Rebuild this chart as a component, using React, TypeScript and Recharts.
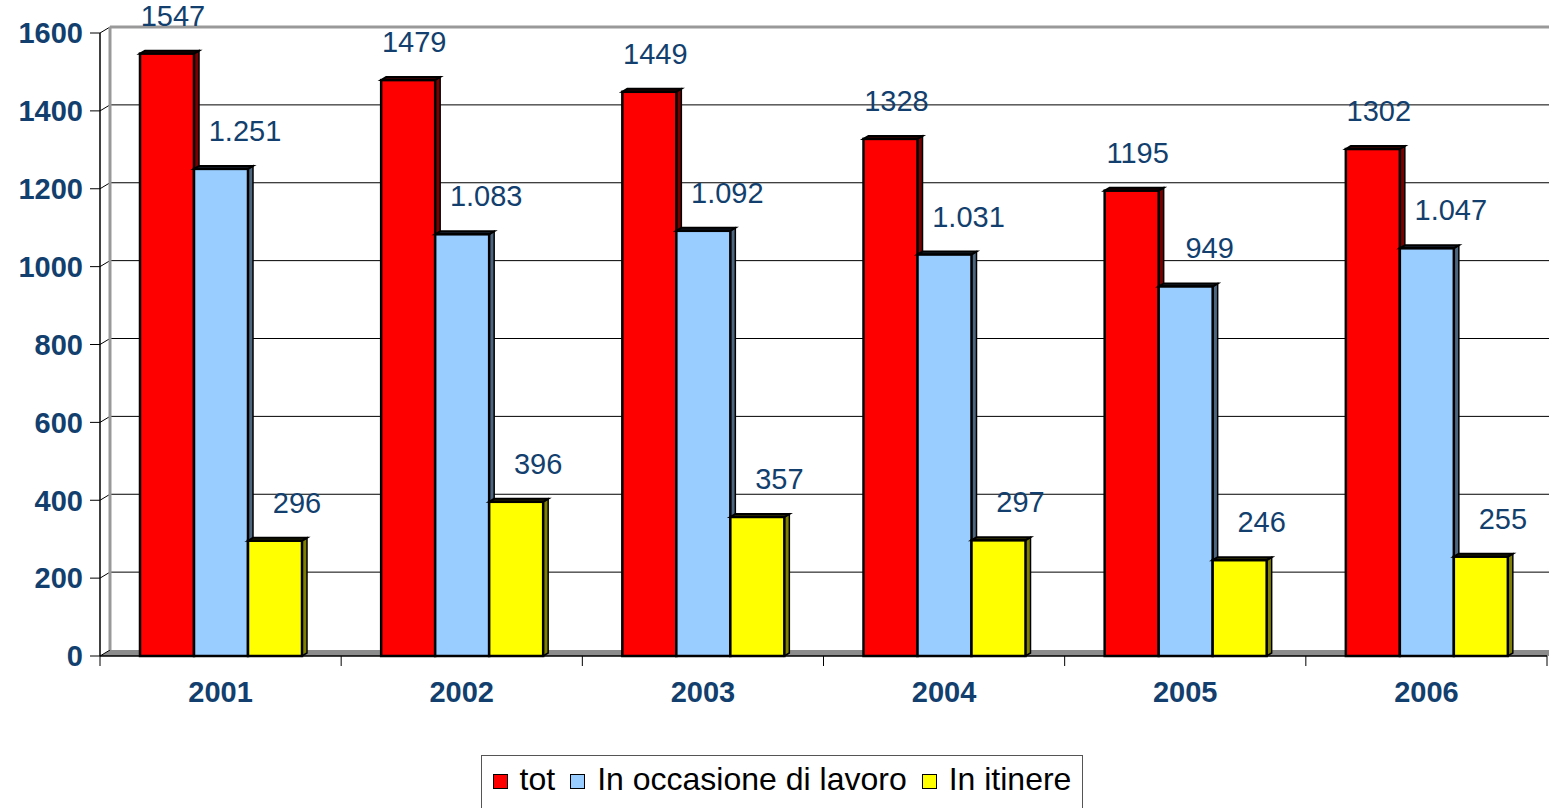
import React from 'react';
import { BarChart, Bar, XAxis, YAxis, CartesianGrid, LabelList } from 'recharts';

const years = ['2001', '2002', '2003', '2004', '2005', '2006'];
const tot = [1547, 1479, 1449, 1328, 1195, 1302];
const lavoro = [1251, 1083, 1092, 1031, 949, 1047];
const itinere = [296, 396, 357, 297, 246, 255];
const yTicks = [0, 200, 400, 600, 800, 1000, 1200, 1400, 1600];

const data = years.map((year, i) => ({
  year,
  tot: tot[i],
  lavoro: lavoro[i],
  itinere: itinere[i],
}));

const W = 1549;
const H = 808;
const AXIS_W = 100;
const TOP = 33;
const RIGHT = 2;
const XAXIS_H = 152;
const PLOT_W = W - AXIS_W - RIGHT;
const HALF_BAND = PLOT_W / years.length / 2;

// offset of the back wall relative to the front axis
const WALL_DX = 10;
const WALL_DY = -6;

const NAVY = '#123f6e';
const FONT = '"Liberation Sans", Arial, sans-serif';

const series = [
  { key: 'tot', name: 'tot', color: '#ff0000', side: '#7a0000', top: '#3a0000', labelDx: 6 },
  { key: 'lavoro', name: 'In occasione di lavoro', color: '#99ccff', side: '#4d6680', top: '#1a2230', labelDx: 24 },
  { key: 'itinere', name: 'In itinere', color: '#ffff00', side: '#808000', top: '#303000', labelDx: 22 },
];

const fmtThousands = (v: number) => String(v).replace(/\B(?=(\d{3})+(?!\d))/g, '.');

function Bar3D(props: any) {
  const { x, y, width, height, fill, side, topColor } = props;
  if (width == null || height == null) return null;
  const dx = 5;
  const dy = -3;
  return (
    <g>
      <polygon
        points={`${x + width},${y} ${x + width + dx},${y + dy} ${x + width + dx},${y + height + dy} ${x + width},${y + height}`}
        fill={side}
        stroke="#000"
        strokeWidth={1.5}
      />
      <polygon
        points={`${x},${y} ${x + dx},${y + dy} ${x + width + dx},${y + dy} ${x + width},${y}`}
        fill={topColor}
        stroke="#000"
        strokeWidth={2}
      />
      <rect x={x} y={y} width={width} height={height} fill={fill} stroke="#000" strokeWidth={2.5} />
    </g>
  );
}

function makeLabel(dxOff: number, format: (v: number) => string) {
  return (props: any) => {
    const { x, y, width, value } = props;
    return (
      <text
        x={x + width / 2 + dxOff}
        y={y - 28}
        textAnchor="middle"
        fill={NAVY}
        fontSize={29}
        fontFamily={FONT}
      >
        {format(value)}
      </text>
    );
  };
}

function GridLine(props: any) {
  const { x1, y1, x2, key, index } = props;
  const isTop = Math.abs(y1 - TOP) < 1;
  const isFloor = Math.abs(y1 - (H - XAXIS_H)) < 1;
  const wy = y1 + WALL_DY;
  const wx = x1 + WALL_DX;
  if (isFloor) {
    return (
      <g key={key ?? `g-${index}`}>
        <polygon points={`${x1},${y1} ${wx},${wy} ${x2 + 2},${wy} ${x2 + 2},${y1}`} fill="#8c8c8c" />
        <line x1={x1} y1={y1} x2={wx} y2={wy} stroke="#000" strokeWidth={1} />
      </g>
    );
  }
  return (
    <g key={key ?? `g-${index}`}>
      <line x1={x1} y1={y1} x2={wx} y2={wy} stroke="#000" strokeWidth={1} />
      <line
        x1={wx}
        y1={wy}
        x2={x2 + 2}
        y2={wy}
        stroke={isTop ? '#999' : '#000'}
        strokeWidth={isTop ? 3 : 1}
      />
    </g>
  );
}

function WallLine(props: any) {
  const { x1, y1, y2, key, index } = props;
  return (
    <line
      key={key ?? `v-${index}`}
      x1={x1 + WALL_DX}
      y1={y1 + WALL_DY}
      x2={x1 + WALL_DX}
      y2={y2 + WALL_DY}
      stroke="#999"
      strokeWidth={3}
    />
  );
}

function YearTick(props: any) {
  const { x, y, payload, index } = props;
  return (
    <g>
      <line x1={x - HALF_BAND} y1={y} x2={x - HALF_BAND} y2={y + 10} stroke="#000" strokeWidth={1} />
      {index === years.length - 1 && (
        <line x1={x + HALF_BAND} y1={y} x2={x + HALF_BAND} y2={y + 10} stroke="#000" strokeWidth={1} />
      )}
      <text x={x} y={y + 46} textAnchor="middle" fill={NAVY} fontSize={29} fontWeight="bold" fontFamily={FONT}>
        {payload.value}
      </text>
    </g>
  );
}

function LegendBox() {
  return (
    <div
      style={{
        position: 'absolute',
        left: 481,
        top: 755,
        width: 602,
        height: 60,
        border: '1px solid #555',
        background: '#fff',
        boxSizing: 'border-box',
        display: 'flex',
        alignItems: 'flex-start',
        justifyContent: 'center',
        paddingTop: 5,
        fontFamily: FONT,
        fontSize: 32,
        color: '#000',
        whiteSpace: 'nowrap',
      }}
    >
      {series.map((s, i) => (
        <span
          key={s.key}
          style={{ display: 'inline-flex', alignItems: 'center', marginLeft: i === 0 ? 0 : 15 }}
        >
          <span
            style={{
              display: 'inline-block',
              width: 13,
              height: 13,
              background: s.color,
              border: '1.5px solid #000',
              marginRight: 12,
              marginTop: 4,
            }}
          />
          {s.name}
        </span>
      ))}
    </div>
  );
}

export default function App() {
  return (
    <div style={{ position: 'absolute', left: 0, top: 0, width: W, height: H, background: '#fff', overflow: 'hidden' }}>
      <BarChart
        width={W}
        height={H}
        data={data}
        margin={{ top: TOP, right: RIGHT, left: 0, bottom: 0 }}
        barGap={0}
        barSize={54}
      >
        <CartesianGrid
          horizontal={GridLine as any}
          vertical={WallLine as any}
          verticalPoints={[AXIS_W]}
        />
        <XAxis
          dataKey="year"
          height={XAXIS_H}
          axisLine={{ stroke: '#000', strokeWidth: 1.5 }}
          tickLine={false}
          tickSize={0}
          tickMargin={0}
          tick={<YearTick />}
          interval={0}
        />
        <YAxis
          width={AXIS_W}
          domain={[0, 1600]}
          ticks={yTicks}
          interval={0}
          axisLine={{ stroke: '#000', strokeWidth: 1.5 }}
          tickLine={{ stroke: '#000' }}
          tickSize={10}
          tickMargin={7}
          tick={{ fill: NAVY, fontSize: 29, fontWeight: 'bold', fontFamily: FONT }}
        />
        {series.map((s) => (
          <Bar
            key={s.key}
            dataKey={s.key}
            name={s.name}
            fill={s.color}
            isAnimationActive={false}
            shape={(p: any) => <Bar3D {...p} side={s.side} topColor={s.top} />}
          >
            <LabelList
              dataKey={s.key}
              content={makeLabel(s.labelDx, s.key === 'lavoro' ? fmtThousands : (v: number) => String(v))}
            />
          </Bar>
        ))}
      </BarChart>
      <LegendBox />
    </div>
  );
}
